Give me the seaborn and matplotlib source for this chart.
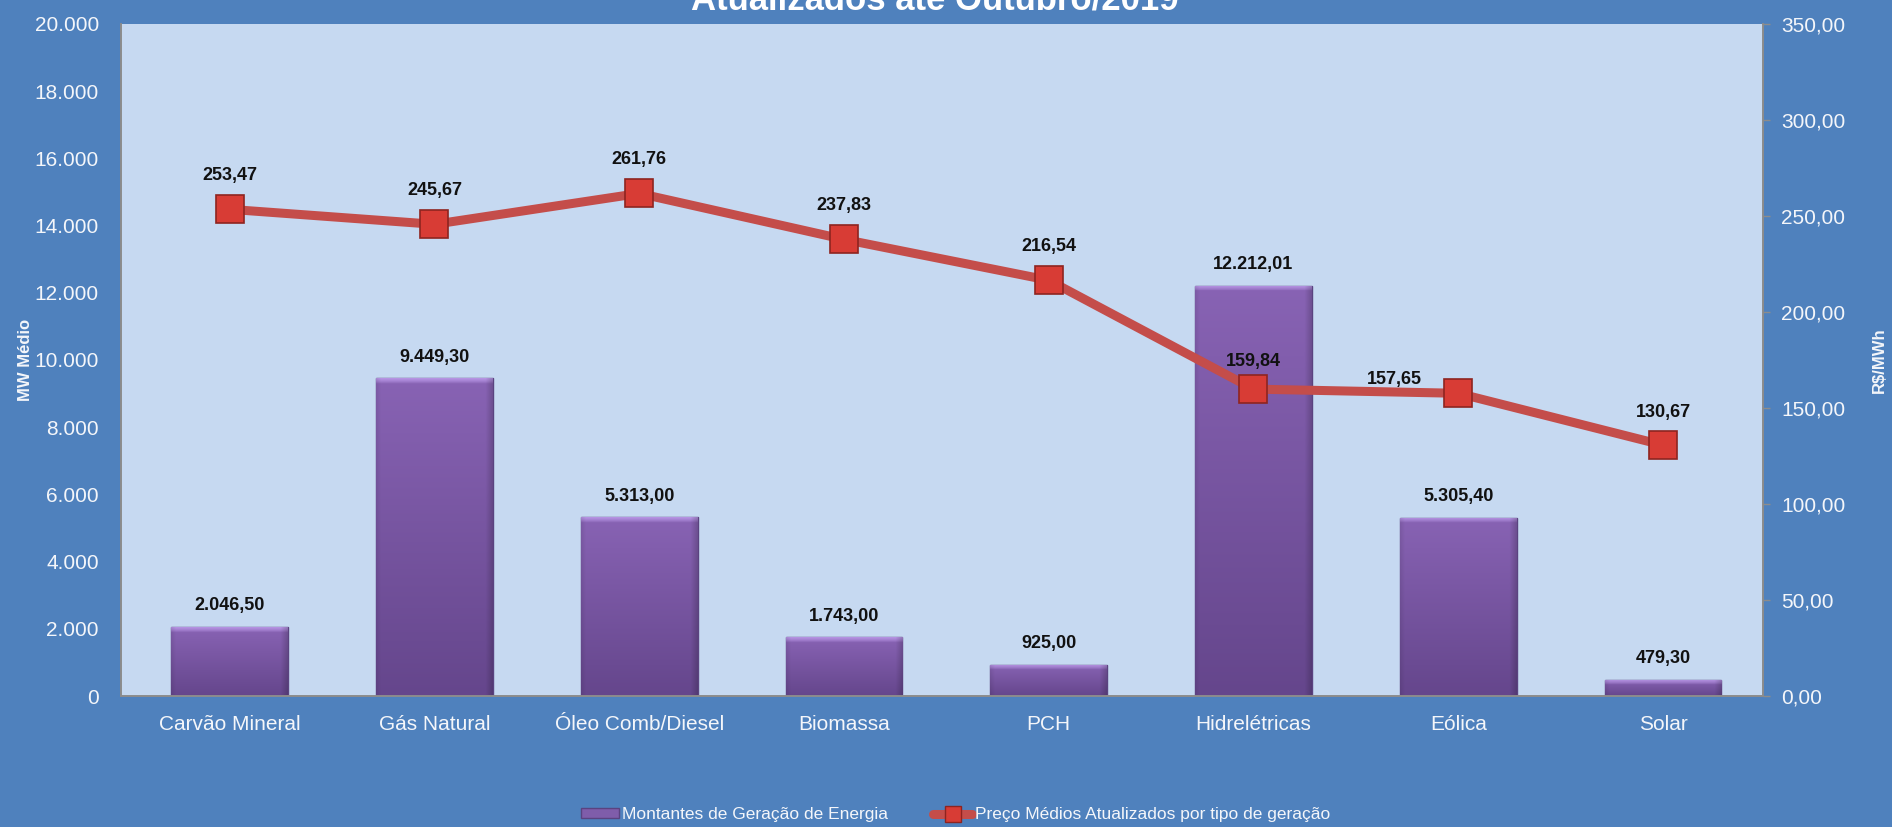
import numpy as np
import matplotlib
matplotlib.use("Agg")
import matplotlib.pyplot as plt
from matplotlib.ticker import FuncFormatter, MultipleLocator
from matplotlib.colors import to_rgb
from matplotlib.lines import Line2D
from matplotlib.patches import Patch
import seaborn as sns
import pandas as pd

categorias = ['Carvão Mineral', 'Gás Natural', 'Óleo Comb/Diesel', 'Biomassa',
              'PCH', 'Hidrelétricas', 'Eólica', 'Solar']
montantes = [2046.50, 9449.30, 5313.00, 1743.00, 925.00, 12212.01, 5305.40, 479.30]
precos = [253.47, 245.67, 261.76, 237.83, 216.54, 159.84, 157.65, 130.67]

serie_barras = 'Montantes de Geração de Energia'
serie_linha = 'Preço Médios Atualizados por tipo de geração'
titulo = 'Atualizados até Outubro/2019'

FUNDO = '#4F81BD'
AREA = '#C6D9F1'
ROXO = '#7F5DAA'
VERMELHO = '#C44D4A'
BRANCO = '#F4F6FA'


def br_int(v, pos=None):
    return f'{v:,.0f}'.replace(',', '.')


def br_dec(v, pos=None):
    s = f'{v:,.2f}'
    return s.replace(',', 'X').replace('.', ',').replace('X', '.')


sns.set_style('white')
plt.rcParams['font.family'] = ['Liberation Sans', 'DejaVu Sans']

fig = plt.figure(figsize=(18.92, 8.27), dpi=100, facecolor=FUNDO)
ax1 = fig.add_axes([0.064, 0.1584, 0.868, 0.8126])
ax1.set_facecolor(AREA)

df = pd.DataFrame({'categoria': categorias, 'montante': montantes, 'preco': precos})
sns.barplot(data=df, x='categoria', y='montante', color=ROXO, width=0.57,
            edgecolor='#5A4380', linewidth=1.0, ax=ax1, zorder=2)

# sombreado das barras (gradiente + chanfro claro no topo)
base_baixo = np.array(to_rgb('#65468C'))
base_cima = np.array(to_rgb('#8863B4'))
chanfro = np.array(to_rgb('#B795E4'))
bevel = 150  # altura do chanfro em unidades do eixo
for p in ax1.patches:
    x0, y0 = p.get_x(), p.get_y()
    w, h = p.get_width(), p.get_height()
    yy = np.linspace(0, 1, 400)[:, None, None]
    img = base_baixo + (base_cima - base_baixo) * yy
    xx = np.linspace(0, 1, 120)[None, :, None]
    lado = 1 - 0.18 * np.clip((xx - 0.94) / 0.06, 0, 1) - 0.08 * np.clip((0.04 - xx) / 0.04, 0, 1)
    t = np.clip((yy * h - (h - bevel)) / bevel, 0, 1) ** 0.7
    img = (img * (1 - t) + chanfro * t) * lado
    im = ax1.imshow(np.clip(img, 0, 1), origin='lower', extent=[x0, x0 + w, y0, y0 + h],
                    aspect='auto', zorder=2.1, interpolation='bilinear')
    im.set_clip_path(p)
    ax1.text(x0 + w / 2, y0 + h + 380, br_dec(h), ha='center', va='bottom',
             fontsize=13, fontweight='bold', color='#111111', zorder=5)

ax1.set_xlim(-0.53, 7.49)
ax1.set_ylim(0, 20000)
ax1.yaxis.set_major_locator(MultipleLocator(2000))
ax1.yaxis.set_major_formatter(FuncFormatter(br_int))
ax1.set_xlabel('')
ax1.set_ylabel('MW Médio', fontsize=12, fontweight='bold', color=BRANCO)
ax1.yaxis.set_label_coords(-0.0535, 0.5)
ax1.tick_params(axis='y', colors=BRANCO, labelsize=15, length=0, pad=16)
ax1.tick_params(axis='x', colors=BRANCO, labelsize=15, length=0, pad=14)

ax2 = ax1.twinx()
ax2.patch.set_visible(False)
sns.lineplot(x=np.arange(len(categorias)), y=precos, ax=ax2, color=VERMELHO,
             linewidth=6.5, marker='s', markersize=20, markerfacecolor='#D83C35',
             markeredgecolor='#8E2420', markeredgewidth=1.2, zorder=4)
ax2.set_ylim(0, 350)
ax2.yaxis.set_major_locator(MultipleLocator(50))
ax2.yaxis.set_major_formatter(FuncFormatter(br_dec))
ax2.set_ylabel('R$/MWh', fontsize=12, fontweight='bold', color=BRANCO)
ax2.yaxis.set_label_coords(1.066, 0.5)
ax2.tick_params(axis='y', colors='#8C8C8C', labelcolor=BRANCO, labelsize=15,
                length=5, width=1, pad=8, direction='out')

desloc = {5: (0, 14), 6: (-46, 4), 7: (0, 17)}
for i, v in enumerate(precos):
    dx, dy = desloc.get(i, (0, 18))
    ax2.annotate(br_dec(v), (i, v), xytext=(dx, dy), textcoords='offset points',
                 ha='center', va='bottom', fontsize=13, fontweight='bold',
                 color='#111111', zorder=6)

for ax in (ax1, ax2):
    for s in ax.spines.values():
        s.set_visible(False)
    for s in ('left', 'bottom', 'right'):
        ax.spines[s].set_visible(True)
        ax.spines[s].set_color('#8C8C8C')
        ax.spines[s].set_linewidth(1.2)

fig.text(0.494, 1 - 10 / 827, titulo, ha='center', va='baseline', fontsize=25,
         fontweight='bold', color='white')

handles = [Patch(facecolor=ROXO, edgecolor='#5A4380', label=serie_barras),
           Line2D([0], [0], color=VERMELHO, linewidth=6.5, marker='s', markersize=11,
                  markerfacecolor='#D83C35', markeredgecolor='#8E2420', label=serie_linha)]
fig.legend(handles=handles, loc='center', bbox_to_anchor=(0.505, 0.015), ncol=2,
           frameon=False, prop={'size': 12.5}, labelcolor=BRANCO,
           handlelength=2.2, handleheight=0.5, handletextpad=0.2, columnspacing=2.6)

fig.savefig('out.png', dpi=100, facecolor=FUNDO)
